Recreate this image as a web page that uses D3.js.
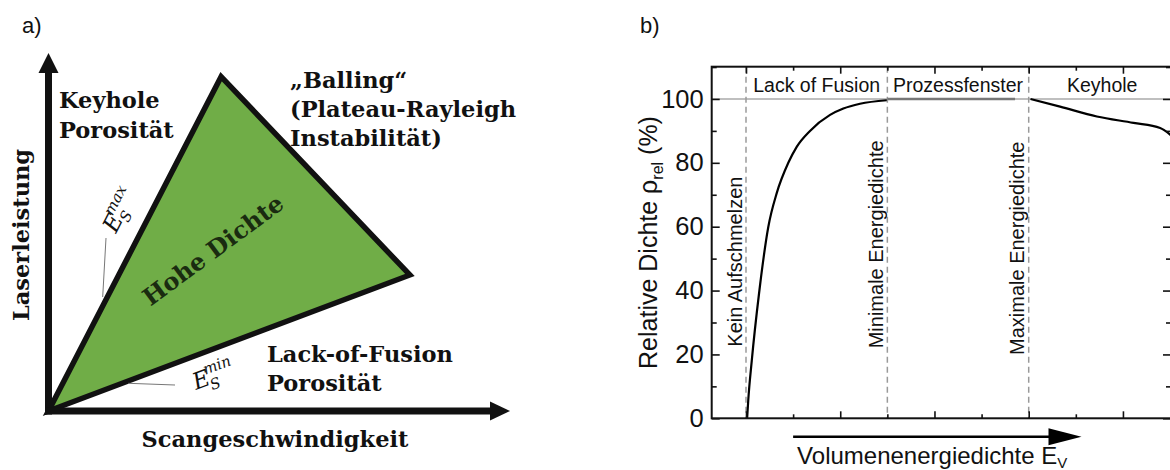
<!DOCTYPE html>
<html>
<head>
<meta charset="utf-8">
<script src="https://cdn.jsdelivr.net/npm/d3@7"></script>
<style>
  body { margin: 0; background: #fff; }
  svg { display: block; }
</style>
</head>
<body>
<svg id="chart" width="1170" height="470"></svg>
<script>
// ---- Panel a: process window in the scan speed / laser power plane (normalised units)
const triangleSpeed = [0, 0.374, 0.783];
const trianglePower = [0, 0.934, 0.38];

// ---- Panel b: relative density over volume energy density (arbitrary energy units)
const lofEnergy  = [1.012, 1.024, 1.061, 1.138, 1.237, 1.326, 1.449, 1.538, 1.679, 1.892, 2.033, 2.21, 2.494];
const lofDensity = [0, 5.7, 18, 39, 60, 70.5, 80, 85, 90, 95, 97, 98.5, 99.6];
const plateauEnergy  = [2.5, 3.855];
const plateauDensity = [100, 100];
const keyholeEnergy  = [4.019, 4.333, 4.723, 5.112, 5.395, 5.501, 5.56];
const keyholeDensity = [100, 97.6, 94.5, 92.5, 90.9, 88.8, 87];

const boundaryEnergy = [1, 2.5, 4];
const boundaryLabels = ["Kein Aufschmelzen", "Minimale Energiedichte", "Maximale Energiedichte"];
const regionLabels   = ["Lack of Fusion", "Prozessfenster", "Keyhole"];
const regionCenters  = [1.75, 3.25, 4.78];
const densityTicks   = [0, 20, 40, 60, 80, 100];
const densityMinor   = [10, 30, 50, 70, 90, 110];
const energyMajor    = [1, 2, 3, 4, 5];
const energyMinor    = [1.5, 2.5, 3.5, 4.5];

const svg = d3.select("#chart");

// ================= Panel a =================
const serif = "'DejaVu Serif', 'Liberation Serif', serif";
const xa = d3.scaleLinear().domain([0, 1]).range([48.5, 510]);
const ya = d3.scaleLinear().domain([0, 1]).range([411, 53]);
const ga = svg.append("g");

// process window triangle
const tri = triangleSpeed.map((s, i) => [xa(s), ya(trianglePower[i])]);
ga.append("path")
  .attr("d", d3.line()(tri) + "Z")
  .attr("fill", "#70ad47")
  .attr("stroke", "#111")
  .attr("stroke-width", 5.5)
  .attr("stroke-linejoin", "miter");

// axes with arrow heads
ga.append("line")
  .attr("x1", xa(0)).attr("y1", ya(0) + 3.5)
  .attr("x2", xa(0)).attr("y2", ya(1) + 19)
  .attr("stroke", "#111").attr("stroke-width", 7);
ga.append("path")
  .attr("d", `M${xa(0) - 10},${ya(1) + 20}L${xa(0) + 10},${ya(1) + 20}L${xa(0)},${ya(1)}Z`)
  .attr("fill", "#111");
ga.append("line")
  .attr("x1", xa(0) - 3.5).attr("y1", ya(0))
  .attr("x2", xa(1) - 19).attr("y2", ya(0))
  .attr("stroke", "#111").attr("stroke-width", 7);
ga.append("path")
  .attr("d", `M${xa(1) - 20},${ya(0) - 9.5}L${xa(1) - 20},${ya(0) + 9.5}L${xa(1)},${ya(0)}Z`)
  .attr("fill", "#111");

// region descriptions
function block(px, py, lines, lh) {
  const t = ga.append("text")
    .attr("x", px).attr("y", py)
    .attr("font-family", serif).attr("font-weight", "bold")
    .attr("font-size", 22.5).attr("fill", "#111");
  lines.forEach((s, i) => t.append("tspan").attr("x", px).attr("dy", i ? lh : 0).text(s));
}
block(59, 108, ["Keyhole", "Porosität"], 30);
block(290, 88, ["\u201EBalling\u201C", "(Plateau-Rayleigh", "Instabilität)"], 29);
block(267, 362, ["Lack-of-Fusion", "Porosität"], 29);

ga.append("text")
  .attr("x", 275).attr("y", 447)
  .attr("text-anchor", "middle")
  .attr("font-family", serif).attr("font-weight", "bold")
  .attr("font-size", 22.5).attr("fill", "#111")
  .text("Scangeschwindigkeit");

ga.append("text")
  .attr("transform", "translate(29,235) rotate(-90)")
  .attr("text-anchor", "middle")
  .attr("font-family", serif).attr("font-weight", "bold")
  .attr("font-size", 22.5).attr("fill", "#111")
  .text("Laserleistung");

ga.append("text")
  .attr("transform", "translate(213,250) rotate(-36.5)")
  .attr("text-anchor", "middle").attr("dominant-baseline", "central")
  .attr("font-family", serif).attr("font-weight", "bold")
  .attr("font-size", 24).attr("fill", "#1a2b10")
  .text("Hohe Dichte");

// energy limit annotations
ga.append("line").attr("x1", 106).attr("y1", 238).attr("x2", 102.7).attr("y2", 297)
  .attr("stroke", "#777").attr("stroke-width", 1);
ga.append("line").attr("x1", 128.3).attr("y1", 383.3).attr("x2", 175).attr("y2", 385)
  .attr("stroke", "#777").attr("stroke-width", 1);

function energyLabel(px, py, angle, sup) {
  const g = ga.append("g").attr("transform", `translate(${px},${py}) rotate(${angle})`);
  const common = sel => sel.attr("font-family", serif).attr("font-style", "italic").attr("fill", "#111");
  common(g.append("text").attr("x", 0).attr("y", 0).attr("font-size", 23).text("E"));
  common(g.append("text").attr("x", 15).attr("y", 6).attr("font-size", 15).text("S"));
  common(g.append("text").attr("x", 14).attr("y", -11).attr("font-size", 15).text(sup));
}
energyLabel(116, 234, -63, "max");
energyLabel(196, 390, -20.5, "min");

// panel letters
const sans = "'Liberation Sans', Arial, sans-serif";
svg.append("text").attr("x", 22).attr("y", 33).attr("font-family", sans)
  .attr("font-size", 22).attr("fill", "#111").text("a)");
svg.append("text").attr("x", 640).attr("y", 33).attr("font-family", sans)
  .attr("font-size", 22).attr("fill", "#111").text("b)");

// ================= Panel b =================
const pLeft = 711.7, pRight = 1171, pTop = 66.7, pBottom = 418.3;
const x = d3.scaleLinear().domain([0.636, 5.51]).range([pLeft, pRight]);
const y = d3.scaleLinear().domain([0, 110.1]).range([pBottom, pTop]);
const gb = svg.append("g").attr("font-family", sans);

// 100 % reference line
gb.append("line")
  .attr("x1", pLeft).attr("x2", pRight)
  .attr("y1", y(100)).attr("y2", y(100))
  .attr("stroke", "#aaa").attr("stroke-width", 1.5);

// regime boundaries
gb.selectAll(".bound").data(boundaryEnergy).join("line")
  .attr("x1", d => x(d)).attr("x2", d => x(d))
  .attr("y1", pTop).attr("y2", pBottom)
  .attr("stroke", "#9a9a9a").attr("stroke-width", 1.5)
  .attr("stroke-dasharray", "6,4");

const labelBase = [346.7, 348.3, 355];
gb.selectAll(".blabel").data(boundaryEnergy).join("text")
  .attr("transform", (d, i) => `translate(${x(d) - 4.5},${labelBase[i]}) rotate(-90)`)
  .attr("font-size", 20).attr("fill", "#111")
  .text((d, i) => boundaryLabels[i]);

gb.selectAll(".rlabel").data(regionCenters).join("text")
  .attr("x", d => x(d)).attr("y", 92)
  .attr("text-anchor", "middle")
  .attr("font-size", 19.5).attr("fill", "#111")
  .text((d, i) => regionLabels[i]);

// density curve
const line = d3.line().x(d => x(d[0])).y(d => y(d[1])).curve(d3.curveMonotoneX);
gb.append("path")
  .datum(plateauEnergy.map((e, i) => [e, plateauDensity[i]]))
  .attr("d", line).attr("fill", "none")
  .attr("stroke", "#777").attr("stroke-width", 2.5);
gb.append("path")
  .datum(lofEnergy.map((e, i) => [e, lofDensity[i]]))
  .attr("d", line).attr("fill", "none")
  .attr("stroke", "#000").attr("stroke-width", 2.2);
gb.append("path")
  .datum(keyholeEnergy.map((e, i) => [e, keyholeDensity[i]]))
  .attr("d", line).attr("fill", "none")
  .attr("stroke", "#000").attr("stroke-width", 2.2);

// axes (ticks pointing inward)
function styleAxis(g) {
  g.select(".domain").remove();
  g.selectAll("line").attr("stroke", "#111").attr("stroke-width", 1.6);
  g.selectAll("text").attr("font-family", sans).attr("fill", "#111");
}
gb.append("g").attr("transform", `translate(${pLeft},0)`)
  .call(d3.axisLeft(y).tickValues(densityTicks).tickSize(-8).tickPadding(8).tickFormat(d3.format("d")))
  .call(styleAxis)
  .selectAll("text").attr("font-size", 25.5);
gb.append("g").attr("transform", `translate(${pLeft},0)`)
  .call(d3.axisLeft(y).tickValues(densityMinor).tickSize(-5).tickFormat(""))
  .call(styleAxis);
gb.append("g").attr("transform", `translate(${pRight},0)`)
  .call(d3.axisRight(y).tickValues(densityTicks).tickSize(-8).tickFormat(""))
  .call(styleAxis);
gb.append("g").attr("transform", `translate(${pRight},0)`)
  .call(d3.axisRight(y).tickValues(densityMinor).tickSize(-5).tickFormat(""))
  .call(styleAxis);
gb.append("g").attr("transform", `translate(0,${pBottom})`)
  .call(d3.axisBottom(x).tickValues(energyMajor).tickSize(-7).tickFormat(""))
  .call(styleAxis);
gb.append("g").attr("transform", `translate(0,${pBottom})`)
  .call(d3.axisBottom(x).tickValues(energyMinor).tickSize(-4).tickFormat(""))
  .call(styleAxis);
gb.append("g").attr("transform", `translate(0,${pTop})`)
  .call(d3.axisTop(x).tickValues(energyMajor).tickSize(-7).tickFormat(""))
  .call(styleAxis);
gb.append("g").attr("transform", `translate(0,${pTop})`)
  .call(d3.axisTop(x).tickValues(energyMinor).tickSize(-4).tickFormat(""))
  .call(styleAxis);

// frame
gb.append("rect")
  .attr("x", pLeft).attr("y", pTop)
  .attr("width", pRight - pLeft).attr("height", pBottom - pTop)
  .attr("fill", "none").attr("stroke", "#111").attr("stroke-width", 2);

// y title
const yt = gb.append("text")
  .attr("transform", `translate(657,${(113 + 372) / 2}) rotate(-90)`)
  .attr("text-anchor", "middle")
  .attr("font-size", 25).attr("fill", "#111");
yt.append("tspan").text("Relative Dichte \u03C1");
yt.append("tspan").attr("font-size", 16).attr("dy", 6).text("rel");
yt.append("tspan").attr("dy", -6).text(" (%)");

// energy direction arrow and x title
gb.append("line")
  .attr("x1", x(1.5)).attr("x2", x(4.56) - 30)
  .attr("y1", 436.7).attr("y2", 436.7)
  .attr("stroke", "#000").attr("stroke-width", 2.6);
gb.append("path")
  .attr("d", `M${x(4.56) - 33},428.2L${x(4.56) - 33},445.2L${x(4.56)},436.7Z`)
  .attr("fill", "#000");
const xt = gb.append("text")
  .attr("x", x(1.5) + 4).attr("y", 464)
  .attr("font-size", 24).attr("fill", "#111");
xt.append("tspan").text("Volumenenergiedichte E");
xt.append("tspan").attr("font-size", 15).attr("dy", 4).text("V");
</script>
</body>
</html>
